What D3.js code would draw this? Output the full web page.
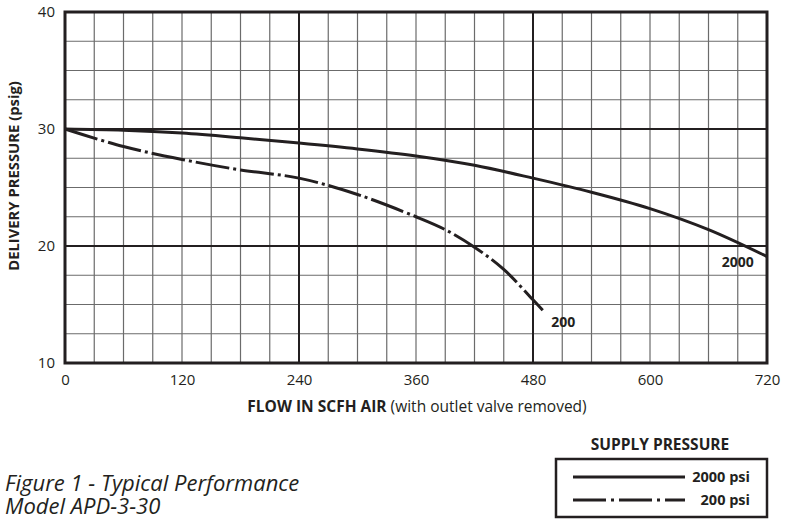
<!DOCTYPE html>
<html>
<head>
<meta charset="utf-8">
<script src="https://cdn.jsdelivr.net/npm/d3@7"></script>
<style>
  body { margin: 0; background: #fff; }
  svg { display: block; font-family: "Open Sans", sans-serif; }
</style>
</head>
<body>
<div id="chart"></div>
<script>
// flow (SCFH) vs delivery pressure (psig)
const flow2000 = [0, 60, 120, 180, 240, 300, 360, 420, 480, 540, 600, 660, 720];
const psi2000 = [30, 29.9, 29.65, 29.25, 28.8, 28.3, 27.7, 26.9, 25.8, 24.6, 23.2, 21.4, 19.1];
const flow200 = [0, 60, 120, 180, 240, 300, 360, 390, 420, 450, 480, 490];
const psi200 = [30, 28.5, 27.4, 26.5, 25.8, 24.4, 22.5, 21.4, 19.9, 18.0, 15.4, 14.5];

const xTicks = [0, 120, 240, 360, 480, 600, 720];
const yTicks = [10, 20, 30, 40];
const xMajor = [240, 480];
const yMajor = [20, 30];
const seriesNames = ["2000 psi", "200 psi"];

const W = 786, H = 519;
const margin = { top: 12, right: 19, bottom: 156, left: 65 };
const width = W - margin.left - margin.right;
const height = H - margin.top - margin.bottom;
const dashDot = "34,4,3,4";

const svg = d3.select("#chart").append("svg")
    .attr("width", W)
    .attr("height", H);

const g = svg.append("g")
    .attr("transform", `translate(${margin.left},${margin.top})`);

const x = d3.scaleLinear().domain([0, 720]).range([0, width]);
const y = d3.scaleLinear().domain([10, 40]).range([height, 0]);

// minor grid every 30 SCFH / 2.5 psig
g.append("g").selectAll("line")
    .data(d3.range(30, 720, 30))
    .join("line")
    .attr("x1", d => x(d)).attr("x2", d => x(d))
    .attr("y1", 0).attr("y2", height)
    .attr("stroke", "#6b6b6b")
    .attr("stroke-width", 1.2);

g.append("g").selectAll("line")
    .data(d3.range(12.5, 40, 2.5))
    .join("line")
    .attr("x1", 0).attr("x2", width)
    .attr("y1", d => y(d)).attr("y2", d => y(d))
    .attr("stroke", "#6b6b6b")
    .attr("stroke-width", 1.2);

// heavier grid lines
g.append("g").selectAll("line")
    .data(xMajor)
    .join("line")
    .attr("x1", d => x(d)).attr("x2", d => x(d))
    .attr("y1", 0).attr("y2", height)
    .attr("stroke", "#231f20")
    .attr("stroke-width", 2);

g.append("g").selectAll("line")
    .data(yMajor)
    .join("line")
    .attr("x1", 0).attr("x2", width)
    .attr("y1", d => y(d)).attr("y2", d => y(d))
    .attr("stroke", "#231f20")
    .attr("stroke-width", 2);

// frame
g.append("rect")
    .attr("width", width)
    .attr("height", height)
    .attr("fill", "none")
    .attr("stroke", "#231f20")
    .attr("stroke-width", 3);

// axes (labels only)
const xAxis = g.append("g")
    .attr("transform", `translate(0,${height})`)
    .call(d3.axisBottom(x).tickValues(xTicks).tickSize(0).tickPadding(11));
const yAxis = g.append("g")
    .call(d3.axisLeft(y).tickValues(yTicks).tickSize(0).tickPadding(10));
[xAxis, yAxis].forEach(a => {
    a.select(".domain").remove();
    a.selectAll("text")
        .attr("fill", "#231f20")
        .style("font-size", "15px")
        .style("font-family", "'Open Sans', sans-serif");
});

// curves
const line = d3.line()
    .x(d => x(d[0]))
    .y(d => y(d[1]))
    .curve(d3.curveCatmullRom.alpha(0.5));

g.append("path")
    .datum(flow2000.map((f, i) => [f, psi2000[i]]))
    .attr("d", line)
    .attr("fill", "none")
    .attr("stroke", "#231f20")
    .attr("stroke-width", 3);

g.append("path")
    .datum(flow200.map((f, i) => [f, psi200[i]]))
    .attr("d", line)
    .attr("fill", "none")
    .attr("stroke", "#231f20")
    .attr("stroke-width", 3)
    .attr("stroke-dasharray", dashDot);

// curve labels
g.append("text")
    .attr("x", x(690))
    .attr("y", y(18.2))
    .attr("text-anchor", "middle")
    .style("font-size", "14px")
    .style("font-weight", "bold")
    .attr("fill", "#231f20")
    .text("2000");

g.append("text")
    .attr("x", x(511))
    .attr("y", y(13.1))
    .attr("text-anchor", "middle")
    .style("font-size", "14px")
    .style("font-weight", "bold")
    .attr("fill", "#231f20")
    .text("200");

// axis titles
const xTitle = svg.append("text")
    .attr("x", 417)
    .attr("y", 412)
    .attr("text-anchor", "middle")
    .attr("fill", "#231f20")
    .style("font-size", "15.5px");
xTitle.append("tspan").style("font-weight", "bold").text("FLOW IN SCFH AIR");
xTitle.append("tspan").text(" (with outlet valve removed)");

svg.append("text")
    .attr("transform", "translate(19,176) rotate(-90)")
    .attr("text-anchor", "middle")
    .attr("fill", "#231f20")
    .style("font-size", "14.8px")
    .style("font-weight", "bold")
    .text("DELIVERY PRESSURE (psig)");

// caption
svg.append("text")
    .attr("x", 5).attr("y", 491)
    .attr("fill", "#231f20")
    .style("font-size", "22px")
    .style("font-style", "italic")
    .text("Figure 1 - Typical Performance");
svg.append("text")
    .attr("x", 5).attr("y", 514)
    .attr("fill", "#231f20")
    .style("font-size", "22px")
    .style("font-style", "italic")
    .text("Model APD-3-30");

// legend
const legend = svg.append("g");
legend.append("text")
    .attr("x", 660).attr("y", 450)
    .attr("text-anchor", "middle")
    .attr("fill", "#231f20")
    .style("font-size", "15.5px")
    .style("font-weight", "bold")
    .text("SUPPLY PRESSURE");
legend.append("rect")
    .attr("x", 556).attr("y", 459)
    .attr("width", 211).attr("height", 58)
    .attr("fill", "none")
    .attr("stroke", "#231f20")
    .attr("stroke-width", 2.5);

seriesNames.forEach((name, i) => {
    const ly = 477 + i * 23;
    legend.append("line")
        .attr("x1", 573).attr("x2", 685)
        .attr("y1", ly).attr("y2", ly)
        .attr("stroke", "#231f20")
        .attr("stroke-width", 3)
        .attr("stroke-dasharray", i === 0 ? null : "33,5,3,5");
    legend.append("text")
        .attr("x", 750).attr("y", ly + 5)
        .attr("text-anchor", "end")
        .attr("fill", "#231f20")
        .style("font-size", "14.5px")
        .style("font-weight", "bold")
        .text(name);
});
</script>
</body>
</html>
